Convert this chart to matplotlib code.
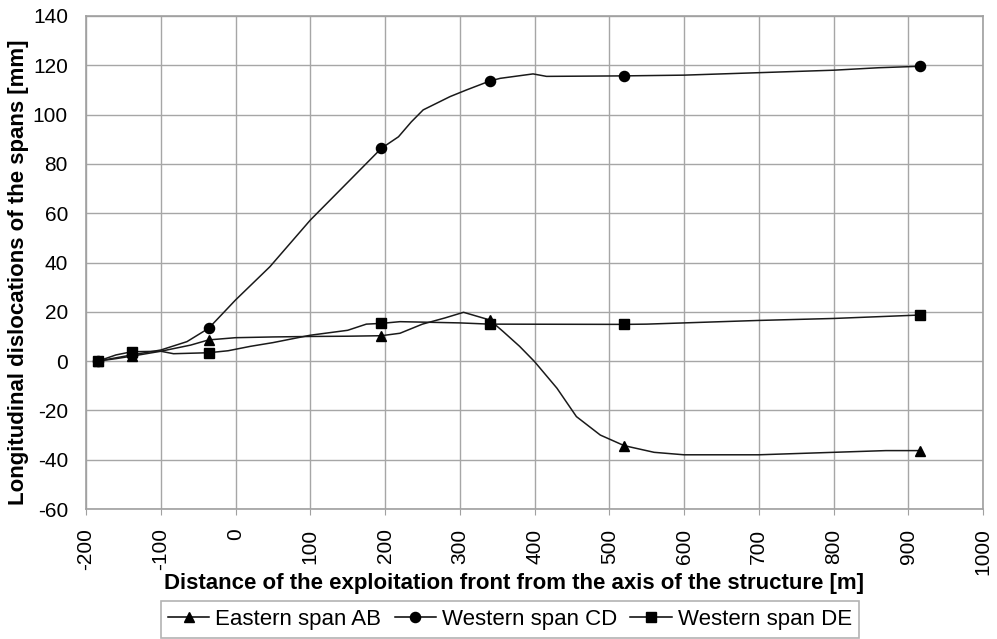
import matplotlib
matplotlib.use("Agg")
import matplotlib.pyplot as plt
from matplotlib.lines import Line2D

plt.rcParams['font.family'] = ['Liberation Sans', 'DejaVu Sans']

# Marker positions (measurement points)
mark_x = [-184, -139, -36, 195, 340, 520, 916]
ab_mark_y = [0, 2, 8.6, 10.3, 16.7, -34.3, -36.3]
cd_mark_y = [0, 2.5, 13.3, 86.3, 113.6, 115.7, 119.6]
de_mark_y = [0, 3.8, 3.4, 15.3, 15.0, 14.9, 18.7]

# Curves
ab_x = [-184, -160, -139, -100, -60, -36, 0, 50, 100, 150, 195, 220, 250, 280, 305, 340,
        358, 380, 400, 430, 456, 488, 520, 560, 600, 700, 800, 870, 916]
ab_y = [0, 1, 2, 4, 6.5, 8.6, 9.5, 9.8, 10, 10.1, 10.3, 11.3, 15, 17.5, 19.8, 16.7,
        12, 6, -0.2, -11, -22.5, -30, -34.3, -37, -38, -38, -37, -36.3, -36.3]

cd_x = [-184, -139, -100, -65, -36, -15, 0, 46, 100, 150, 195, 218, 235, 251, 287, 309,
        340, 354, 398, 416, 520, 600, 700, 800, 860, 916]
cd_y = [0, 2.5, 4.5, 7.9, 13.3, 20, 24.8, 38.3, 57.2, 72.5, 86.3, 91, 97, 101.9, 107.3, 110,
        113.6, 114.7, 116.5, 115.5, 115.7, 116, 117, 118, 119, 119.6]

de_x = [-184, -160, -139, -100, -83, -36, -10, 20, 50, 100, 150, 175, 195, 220, 300, 340,
        520, 550, 700, 800, 916]
de_y = [0, 2.5, 3.8, 4, 3, 3.4, 4.2, 6, 7.5, 10.5, 12.5, 15, 15.3, 16, 15.5, 15,
        14.9, 15, 16.5, 17.3, 18.7]

x_ticks = list(range(-200, 1001, 100))
y_ticks = list(range(-60, 141, 20))

labels = ['Eastern span AB', 'Western span CD', 'Western span DE']

fig = plt.figure(figsize=(9.97, 6.39), dpi=100)
ax = fig.add_axes([0.0863, 0.2034, 0.8997, 0.7716])

lw = 1.1
ms = 7.3
ax.plot(ab_x, ab_y, color='#1a1a1a', lw=lw, zorder=3)
ax.plot(cd_x, cd_y, color='#1a1a1a', lw=lw, zorder=3)
ax.plot(de_x, de_y, color='#1a1a1a', lw=lw, zorder=3)
ax.plot(mark_x, cd_mark_y, 'o', color='black', ms=ms, ls='none', zorder=4)
ax.plot(mark_x, ab_mark_y, '^', color='black', ms=ms, ls='none', zorder=5)
ax.plot(mark_x, de_mark_y, 's', color='black', ms=ms, ls='none', zorder=6)

ax.set_xlim(-200, 1000)
ax.set_ylim(-60, 140)
ax.set_xticks(x_ticks)
ax.set_yticks(y_ticks)
ax.set_xticklabels([str(v) for v in x_ticks], rotation=90, fontsize=15)
ax.set_yticklabels([str(v) for v in y_ticks], fontsize=15)
ax.grid(True, color='#a6a6a6', lw=1)
ax.set_axisbelow(True)
for s in ax.spines.values():
    s.set_color('#a0a0a0')
    s.set_linewidth(1.2)
ax.tick_params(axis='x', length=4, color='#a0a0a0', pad=10)
ax.tick_params(axis='y', length=0, pad=13)

ax.set_xlabel('Distance of the exploitation front from the axis of the structure [m]',
              fontsize=16, fontweight='bold')
ax.set_ylabel('Longitudinal dislocations of the spans [mm]',
              fontsize=16, fontweight='bold')
ax.xaxis.set_label_coords(0.4766, -0.129)
ax.yaxis.set_label_coords(-0.0635, 0.48)

handles = [Line2D([], [], color='black', lw=lw, marker=m, ms=ms)
           for m in ['^', 'o', 's']]
leg = fig.legend(handles, labels, loc='upper center', bbox_to_anchor=(0.5115, 0.0595),
                 ncol=3, fontsize=16, frameon=True, fancybox=False, numpoints=1,
                 handlelength=1.85, handletextpad=0.27, columnspacing=0.6,
                 borderpad=0.35, borderaxespad=0)
leg.get_frame().set_edgecolor('#a0a0a0')
leg.get_frame().set_linewidth(1.2)

fig.savefig('out.png', dpi=100)
